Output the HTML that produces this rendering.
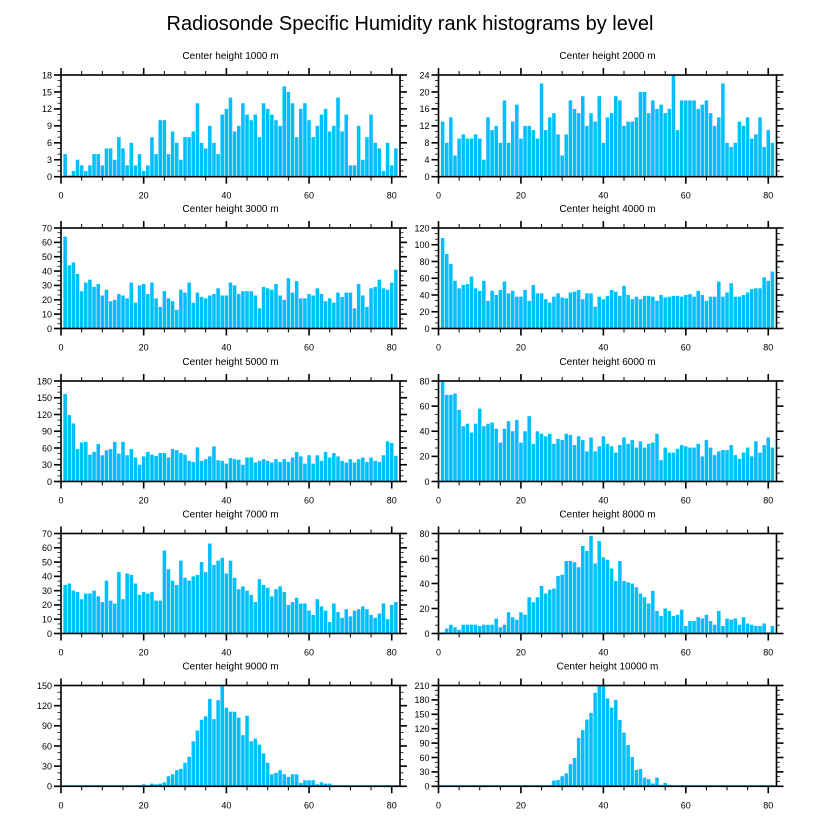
<!DOCTYPE html>
<html><head><meta charset="utf-8"><style>
html,body{margin:0;padding:0;background:#fff;}
svg{display:block;font-family:"Liberation Sans",sans-serif;}
</style></head><body>
<svg id="chart" width="816" height="824" viewBox="0 0 816 824" xmlns="http://www.w3.org/2000/svg">
<text x="410" y="30" text-anchor="middle" font-size="20" fill="#000">Radiosonde Specific Humidity rank histograms by level</text>
</svg>
<script>
const titles = ["Center height 1000 m","Center height 2000 m","Center height 3000 m","Center height 4000 m","Center height 5000 m","Center height 6000 m","Center height 7000 m","Center height 8000 m","Center height 9000 m","Center height 10000 m"];
const yTickMax = [18,24,70,120,180,80,70,80,150,210];
const yTickStep = [3,4,10,20,30,20,10,20,30,30];
const xTicks = [0,20,40,60,80];
const h1000 = [4,0,1,3,2,1,2,4,4,2,5,5,3,7,5,2,6,2,4,1,2,7,4,10,10,4,8,6,3,7,7,8,13,6,5,9,6,4,11,12,14,8,9,13,11,10,11,7,13,12,11,10,9,16,15,13,7,12,13,10,7,9,11,12,8,9,14,8,11,2,2,9,3,7,11,6,5,1,6,2,5];
const h2000 = [13,8,14,5,9,10,9,9,10,9,4,14,11,12,8,18,8,13,17,9,12,12,11,9,22,11,14,15,10,5,10,18,16,15,19,12,15,13,19,8,14,15,19,18,12,13,13,14,20,20,15,18,16,17,15,16,24,11,18,18,18,18,16,17,18,15,12,14,22,8,7,8,13,12,14,9,10,14,7,11,8];
const h3000 = [64,44,46,38,26,32,34,29,31,23,27,19,20,24,23,21,32,18,30,31,24,32,21,15,26,21,19,13,27,25,32,18,25,22,21,23,24,28,23,23,32,30,24,26,26,26,23,14,29,28,27,31,23,20,35,25,33,21,21,24,23,28,24,19,21,18,25,22,25,25,14,31,23,15,28,29,34,28,27,32,41];
const h4000 = [108,89,77,57,48,52,53,62,48,45,57,33,45,40,46,56,42,45,38,38,46,33,52,42,42,35,31,38,42,37,36,43,44,46,35,42,42,26,38,35,39,46,44,39,51,40,35,38,35,39,39,38,33,40,37,38,39,39,38,40,41,38,45,40,33,38,38,56,38,43,54,38,38,40,43,47,48,48,61,57,68];
const h5000 = [157,119,104,58,70,71,48,53,67,47,56,58,71,50,71,47,58,43,30,45,53,48,46,51,51,43,58,56,51,48,37,35,61,37,40,45,63,38,37,32,42,40,39,30,43,43,34,37,40,37,34,40,35,40,35,43,53,45,32,47,32,47,37,53,43,51,45,37,34,40,34,40,43,35,43,37,35,47,72,69,46];
const h6000 = [80,69,69,70,57,44,46,39,46,58,44,46,47,42,31,42,48,40,49,31,40,52,30,40,38,36,38,30,34,33,38,37,29,36,33,24,35,24,28,36,30,28,23,29,35,30,33,27,32,27,30,31,38,17,27,23,23,26,29,28,27,27,30,20,33,27,21,24,25,25,29,21,18,23,27,20,32,23,29,35,27];
const h7000 = [34,35,30,29,24,28,28,30,26,22,37,23,21,43,24,42,41,35,27,29,28,29,23,23,58,45,37,34,51,39,37,40,41,50,43,63,48,51,53,42,51,39,31,33,30,27,22,38,34,32,26,31,33,29,20,22,25,21,21,16,13,24,19,16,8,21,15,11,17,12,16,17,19,17,13,11,14,21,10,20,22];
const h8000 = [0,4,7,5,3,7,7,7,7,6,7,7,7,12,5,7,17,13,11,17,15,29,25,29,38,32,35,36,46,47,58,58,57,53,70,66,78,56,74,61,59,52,42,58,42,41,40,37,32,29,24,34,18,14,20,18,14,15,19,6,10,10,13,12,15,10,7,18,6,12,11,12,7,13,8,7,6,6,8,1,6];
const h9000 = [0,0,0,0,0,0,0,0,0,0,0,0,1,0,0,1,1,1,1,3,0,4,3,4,6,15,18,24,26,35,44,67,83,99,104,130,100,128,150,117,111,111,102,76,105,67,71,62,49,35,18,20,24,18,14,18,18,5,9,9,9,3,6,4,4,1,0,1,1,1,1,0,0,0,0,0,0,0,0,0,0];
const h10000 = [0,0,0,0,0,0,0,0,0,0,0,0,0,0,0,0,0,0,0,0,0,0,0,1,1,1,2,12,13,21,27,46,59,101,117,139,153,195,210,210,183,164,180,138,112,86,61,34,36,18,15,6,18,3,7,3,2,1,1,1,1,0,0,0,0,0,0,0,0,0,0,0,0,0,0,0,0,0,0,0,0];
const series = [h1000,h2000,h3000,h4000,h5000,h6000,h7000,h8000,h9000,h10000];

const NS = "http://www.w3.org/2000/svg";
const svg = document.getElementById("chart");
function mk(tag, attrs, parent){const e=document.createElementNS(NS,tag);for(const k in attrs)e.setAttribute(k,attrs[k]);(parent||svg).appendChild(e);return e;}
const colX = [[61,400],[438.5,776.5]];
const rowY = [[75,176.7],[228,328.5],[381,481.5],[533.5,633.5],[685.5,786.3]];
const XMAX = 82;
for (let p=0;p<10;p++){
  const col=p%2,row=Math.floor(p/2);
  const [x0,x1]=colX[col],[yt,yb]=rowY[row];
  const xs=v=>x0+(x1-x0)*v/XMAX;
  const ys=v=>yb-(yb-yt)*Math.min(v,yTickMax[p])/yTickMax[p];
  const g=mk("g",{});
  
  
  const t=mk("text",{x:(x0+x1)/2,y:yt-16,"text-anchor":"middle","font-size":"10",fill:"#000"},g);
  t.textContent=titles[p];
  
  
  const bw=(x1-x0)/XMAX;
  series[p].forEach((v,i)=>{
    const cx=xs(i+1);
    const top=Math.min(ys(v),yb-1.2);
    const r=mk("rect",{x:cx-bw/2+0.3,y:top,width:bw-0.6,height:yb-top,fill:"#00BFFF"},g);
    
    
  });
  const fr=mk("rect",{x:x0,y:yt,width:x1-x0,height:yb-yt,fill:"none",stroke:"#000","stroke-width":"1.6"},g);
  
  
  for(let v=0;v<=XMAX;v+=5){
    const major=v%20===0,L=major?7:4,X=xs(v);
    mk("line",{x1:X,x2:X,y1:yb,y2:yb+L,stroke:"#000","stroke-width":major?1.6:1},g);
    mk("line",{x1:X,x2:X,y1:yt,y2:yt-L,stroke:"#000","stroke-width":major?1.6:1},g);
  }
  xTicks.forEach(v=>{
    const lt=mk("text",{x:xs(v),y:yb+22,"text-anchor":"middle","font-size":"9",fill:"#000"},g);
    lt.textContent=v;
    
    
  });
  const st=yTickStep[p],mn=st/3;
  for(let k=0;k<=Math.round(yTickMax[p]/mn);k++){
    const v=k*mn,major=k%3===0,L=major?7:3.5,Y=ys(v);
    mk("line",{x1:x0,x2:x0-L,y1:Y,y2:Y,stroke:"#000","stroke-width":major?1.6:0.8},g);
    mk("line",{x1:x1,x2:x1+L,y1:Y,y2:Y,stroke:"#000","stroke-width":major?1.6:0.8},g);
  }
  for(let v=0;v<=yTickMax[p]+1e-6;v+=st){
    const lt=mk("text",{x:x0-9,y:ys(v)+3.3,"text-anchor":"end","font-size":"9",fill:"#000"},g);
    lt.textContent=v;
    
    
  }
}
</script>
</body></html>
